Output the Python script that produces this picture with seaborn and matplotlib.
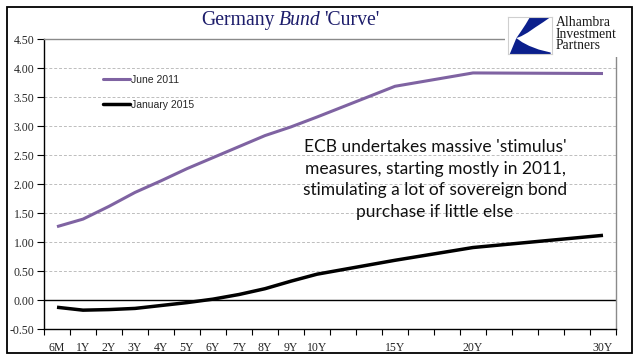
import numpy as np
import pandas as pd
import matplotlib
matplotlib.use('Agg')
import matplotlib.pyplot as plt
from matplotlib.patches import Rectangle, Polygon
import seaborn as sns

# category slots along the x axis (blank slots carry no label)
slot_labels = ['6M', '1Y', '2Y', '3Y', '4Y', '5Y', '6Y', '7Y', '8Y', '9Y', '10Y',
               '', '', '15Y', '', '', '20Y', '', '', '', '', '30Y']
tenors = ['6M', '1Y', '2Y', '3Y', '4Y', '5Y', '6Y', '7Y', '8Y', '9Y', '10Y', '15Y', '20Y', '30Y']
june_2011 = [1.27, 1.40, 1.62, 1.86, 2.06, 2.27, 2.46, 2.65, 2.84, 2.99, 3.16, 3.69, 3.92, 3.91]
jan_2015 = [-0.12, -0.17, -0.16, -0.14, -0.09, -0.04, 0.02, 0.10, 0.20, 0.33, 0.45, 0.69, 0.91, 1.12]
y_ticks = [-0.5, 0.0, 0.5, 1.0, 1.5, 2.0, 2.5, 3.0, 3.5, 4.0, 4.5]

note = ("ECB undertakes massive 'stimulus'\n"
        "measures, starting mostly in 2011,\n"
        "stimulating a lot of sovereign bond\n"
        "purchase if little else")

sns.set_style('white')
plt.rcParams['font.family'] = ['Liberation Serif', 'DejaVu Serif']

df = pd.DataFrame({'tenor': tenors, 'June 2011': june_2011, 'January 2015': jan_2015})
df['slot'] = [slot_labels.index(t) for t in tenors]
long_df = df.melt(id_vars=['tenor', 'slot'], var_name='series', value_name='yield')

W, H = 641, 361
fig = plt.figure(figsize=(W / 100, H / 100), dpi=100)
ax = fig.add_axes([44 / W, 1 - 329.3 / H, 572 / W, 290 / H])

palette = {'June 2011': '#7f63a2', 'January 2015': '#000000'}
sns.lineplot(data=long_df, x='slot', y='yield', hue='series', palette=palette,
             hue_order=['June 2011', 'January 2015'], ax=ax, zorder=3)
for line, lw in zip(ax.lines, [2.2, 2.5]):
    line.set_linewidth(lw)
    line.set_solid_capstyle('butt')

ax.set_xlim(-0.5, len(slot_labels) - 0.5)
ax.set_ylim(-0.5, 4.5)
ax.set_xlabel('')
ax.set_ylabel('')

# tick marks between categories, labels at category centres
ax.set_xticks(np.arange(-0.5, len(slot_labels), 1.0))
ax.set_xticklabels([])
ax.set_xticks(np.arange(len(slot_labels)), minor=True)
ax.set_xticklabels(slot_labels, minor=True, fontsize=8.5)
ax.tick_params(axis='x', which='major', direction='out', length=4, width=0.8, color='black', bottom=True)
ax.tick_params(axis='x', which='minor', length=0, pad=9)

ax.set_yticks(y_ticks)
ax.set_yticklabels([f'{v:.2f}' for v in y_ticks], fontsize=8.5)
ax.tick_params(axis='y', direction='out', length=5, width=0.8, color='black', left=True, pad=2)

ax.yaxis.grid(True, color='#bdbdbd', linestyle=(0, (3, 2)), linewidth=0.7)
ax.set_axisbelow(True)
ax.axhline(0, color='black', linewidth=1.0, zorder=2)

for side in ['left', 'bottom']:
    ax.spines[side].set_color('black')
    ax.spines[side].set_linewidth(1.0)
for side in ['top', 'right']:
    ax.spines[side].set_color('#8a8a8a')
    ax.spines[side].set_linewidth(1.0)

leg = ax.legend(loc='upper left', bbox_to_anchor=(0.103, 0.878), frameon=False,
                handlelength=2.6, handletextpad=0.1, labelspacing=1.45,
                borderpad=0, borderaxespad=0,
                prop={'family': 'Liberation Sans', 'size': 7.5})
for h, lw in zip(leg.get_lines(), [2.2, 2.5]):
    h.set_linewidth(lw)

fig.text(435 / W, 1 - 179.5 / H, note, ha='center', va='center', multialignment='center',
         family='Lato', fontsize=12.5, linespacing=1.45, color='#111111')

# title in three styled pieces
navy = '#1d1d6b'
t1 = ax.annotate('Germany', xy=(201 / W, 1 - 30 / H), xycoords='figure fraction',
                 ha='left', va='bottom', fontsize=14.2, color=navy, annotation_clip=False)
t2 = ax.annotate('Bund', xy=(1, 0), xycoords=t1, xytext=(3, 0), textcoords='offset points',
                 ha='left', va='bottom', fontsize=14.2, style='italic', color=navy,
                 annotation_clip=False)
ax.annotate("'Curve'", xy=(1, 0), xycoords=t2, xytext=(3, 0), textcoords='offset points',
            ha='left', va='bottom', fontsize=14.2, color=navy, annotation_clip=False)

# logo area: white patch hiding the plot frame corner
fig.patches.append(Rectangle((505 / W, 1 - 57 / H), 125 / W, 43 / H, transform=fig.transFigure,
                             facecolor='white', edgecolor='none', zorder=1))
logo = fig.add_axes([508 / W, 1 - 54 / H, 44 / W, 37 / H], zorder=2)
logo.set_xlim(0, 1)
logo.set_ylim(0, 1)
logo.set_xticks([])
logo.set_yticks([])
for s in logo.spines.values():
    s.set_color('#cfcfcf')
    s.set_linewidth(0.8)
blue = '#0b1f8c'
logo.add_patch(Polygon([(0.50, 1.0), (0.97, 1.0), (0.80, 0.86), (0.62, 0.72), (0.45, 0.58),
                        (0.30, 0.48), (0.19, 0.43), (0.30, 0.62), (0.40, 0.80)],
                       closed=True, facecolor=blue, edgecolor='none'))
logo.add_patch(Polygon([(0.19, 0.43), (0.04, 0.0), (0.97, 0.0), (0.97, 0.04), (0.70, 0.12),
                        (0.48, 0.22), (0.32, 0.32)],
                       closed=True, facecolor=blue, edgecolor='none'))
fig.text(556 / W, 1 - 16 / H, 'Alhambra\nInvestment\nPartners', ha='left', va='top',
         fontsize=9.8, linespacing=0.85, color='#1a1a1a')

# outer frame
fig.patches.append(Rectangle((7 / W, 1 - 353 / H), 625 / W, 346 / H, transform=fig.transFigure,
                             fill=False, edgecolor='black', linewidth=1.3, zorder=5))

fig.savefig('out.png', dpi=100)
